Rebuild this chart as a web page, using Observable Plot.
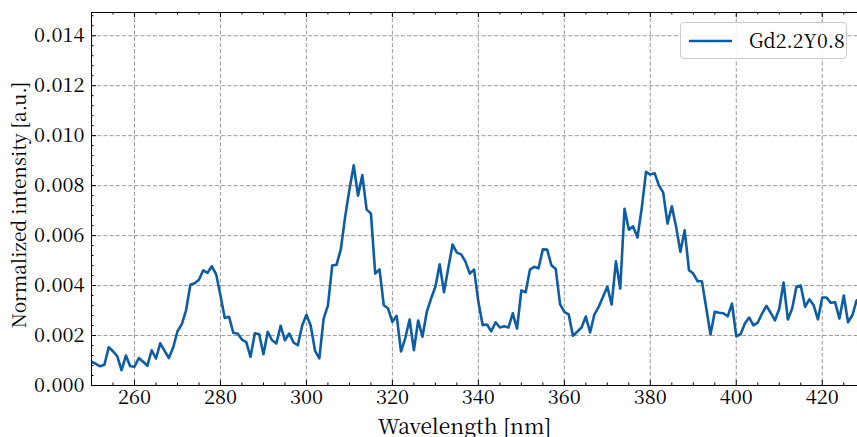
<!DOCTYPE html>
<html><head><meta charset="utf-8">
<script src="https://cdn.jsdelivr.net/npm/d3@7"></script>
<script src="https://cdn.jsdelivr.net/npm/@observablehq/plot@0.6"></script>
<style>
body{margin:0;background:#fff;}
#wrap{position:relative;width:857px;height:437px;overflow:hidden;}
#wrap svg text{font-family:"Noto Serif CJK SC","Liberation Serif",serif;}
#legend{position:absolute;left:680px;top:22px;width:165px;height:35px;border:1px solid #cccccc;border-radius:4px;background:rgba(255,255,255,0.85);font-family:"Noto Serif CJK SC","Liberation Serif",serif;font-size:19.5px;color:#000;}
#legend svg{position:absolute;left:0;top:0;}
#legend span{position:absolute;left:68px;top:3px;line-height:28px;white-space:nowrap;}
</style></head>
<body><div id="wrap"></div>
<script>
const wavelength = [250,251,252,253,254,255,256,257,258,259,260,261,262,263,264,265,266,267,268,269,
270,271,272,273,274,275,276,277,278,279,280,281,282,283,284,285,286,287,288,289,
290,291,292,293,294,295,296,297,298,299,300,301,302,303,304,305,306,307,308,309,
310,311,312,313,314,315,316,317,318,319,320,321,322,323,324,325,326,327,328,329,
330,331,332,333,334,335,336,337,338,339,340,341,342,343,344,345,346,347,348,349,
350,351,352,353,354,355,356,357,358,359,360,361,362,363,364,365,366,367,368,369,
370,371,372,373,374,375,376,377,378,379,380,381,382,383,384,385,386,387,388,389,
390,391,392,393,394,395,396,397,398,399,400,401,402,403,404,405,406,407,408,409,
410,411,412,413,414,415,416,417,418,419,420,421,422,423,424,425,426,427,428];
const intensity = [0.00095,0.00087,0.00077,0.00083,0.00153,0.00137,0.00117,0.00061,0.00120,0.00077,
0.00075,0.00110,0.00095,0.00079,0.00141,0.00108,0.00169,0.00139,0.00110,0.00152,
0.00217,0.00245,0.00301,0.00403,0.00409,0.00423,0.00461,0.00451,0.00477,0.00445,
0.00360,0.00270,0.00275,0.00210,0.00208,0.00184,0.00174,0.00115,0.00209,0.00205,
0.00125,0.00215,0.00181,0.00168,0.00239,0.00181,0.00208,0.00172,0.00161,0.00239,
0.00283,0.00239,0.00139,0.00109,0.00268,0.00320,0.00480,0.00483,0.00545,0.00675,
0.00784,0.00881,0.00760,0.00842,0.00704,0.00689,0.00448,0.00465,0.00321,0.00308,
0.00255,0.00279,0.00136,0.00190,0.00264,0.00141,0.00260,0.00195,0.00295,0.00348,
0.00395,0.00485,0.00373,0.00470,0.00564,0.00532,0.00525,0.00496,0.00448,0.00464,
0.00335,0.00241,0.00244,0.00217,0.00253,0.00232,0.00237,0.00232,0.00289,0.00228,
0.00381,0.00373,0.00464,0.00475,0.00469,0.00545,0.00544,0.00481,0.00466,0.00326,
0.00295,0.00285,0.00199,0.00215,0.00232,0.00276,0.00212,0.00285,0.00315,0.00355,
0.00395,0.00324,0.00497,0.00388,0.00707,0.00624,0.00637,0.00592,0.00709,0.00855,
0.00844,0.00850,0.00801,0.00772,0.00648,0.00717,0.00635,0.00535,0.00621,0.00461,
0.00448,0.00417,0.00417,0.00311,0.00204,0.00295,0.00291,0.00289,0.00277,0.00328,
0.00197,0.00205,0.00248,0.00272,0.00241,0.00252,0.00288,0.00319,0.00291,0.00261,
0.00307,0.00412,0.00264,0.00308,0.00395,0.00400,0.00315,0.00345,0.00321,0.00265,
0.00352,0.00352,0.00331,0.00333,0.00268,0.00360,0.00253,0.00281,0.00341];
const xMajor = [260,280,300,320,340,360,380,400,420];
const xMinor = [250,255,265,270,275,285,290,295,305,310,315,325,330,335,345,350,355,365,370,375,385,390,395,405,410,415,425];
const yMajor = [0,0.002,0.004,0.006,0.008,0.010,0.012,0.014];
const yMinor = [0.0004,0.0008,0.0012,0.0016,0.0024,0.0028,0.0032,0.0036,0.0044,0.0048,0.0052,0.0056,0.0064,0.0068,0.0072,0.0076,0.0084,0.0088,0.0092,0.0096,0.0104,0.0108,0.0112,0.0116,0.0124,0.0128,0.0132,0.0136,0.0144,0.0148];
const seriesName = "Gd2.2Y0.8";
const xLabel = "Wavelength [nm]";
const yLabel = "Normalized intensity [a.u.]";
const lineColor = "#0C5DA5";

const data = wavelength.map((w, i) => ({w, v: intensity[i]}));
const font = '"Noto Serif CJK SC", "Liberation Serif", serif';
const W = 857, H = 437, ml = 91, mr = 0, mt = 12, mb = 52;
const ph = H - mt - mb, pw = W - ml - mr;
const majorLen = 5, minorLen = 2.5;
const gridStyle = {stroke: "#808080", strokeOpacity: 1, strokeWidth: 0.8, strokeDasharray: "4,2.2"};

const chart = Plot.plot({
  width: W, height: H, marginLeft: ml, marginRight: mr, marginTop: mt, marginBottom: mb,
  style: {fontFamily: font, fontSize: "20px", background: "white", color: "black"},
  x: {domain: [250, 428.2]},
  y: {domain: [0, 0.01493]},
  marks: [
    Plot.gridX(xMajor, gridStyle),
    Plot.gridY(yMajor.filter(d => d > 0), gridStyle),
    Plot.line(data, {x: "w", y: "v", stroke: lineColor, strokeWidth: 2.6, clip: true}),
    Plot.frame({stroke: "black", strokeWidth: 1}),
    Plot.tickX(xMajor, {x: d => d, insetTop: ph - majorLen, stroke: "black"}),
    Plot.tickX(xMajor, {x: d => d, insetBottom: ph - majorLen, stroke: "black"}),
    Plot.tickX(xMinor, {x: d => d, insetTop: ph - minorLen, stroke: "black"}),
    Plot.tickX(xMinor, {x: d => d, insetBottom: ph - minorLen, stroke: "black"}),
    Plot.tickY(yMajor, {y: d => d, insetRight: pw - majorLen, stroke: "black"}),
    Plot.tickY(yMinor, {y: d => d, insetRight: pw - minorLen, stroke: "black"}),
    Plot.axisX(xMajor, {tickSize: 0, tickPadding: 4, tickFormat: d => String(d), label: null, fontSize: 20}),
    Plot.axisY(yMajor, {tickSize: 0, tickPadding: 7, tickFormat: d => d.toFixed(3), label: null, fontSize: 20}),
    Plot.text([xLabel], {frameAnchor: "bottom", textAnchor: "middle", dx: -10, dy: 48, fontSize: 21, fill: "black"}),
    Plot.text([yLabel], {frameAnchor: "left", textAnchor: "middle", dx: -72, dy: 6, rotate: -90, fontSize: 19, fill: "black"})
  ]
});

const wrap = document.getElementById("wrap");
wrap.appendChild(chart);
const legend = document.createElement("div");
legend.id = "legend";
legend.innerHTML = `<svg width="165" height="35"><line x1="8" x2="51" y1="18" y2="18" stroke="${lineColor}" stroke-width="2.6"/></svg><span>${seriesName}</span>`;
wrap.appendChild(legend);
</script>
</body></html>
